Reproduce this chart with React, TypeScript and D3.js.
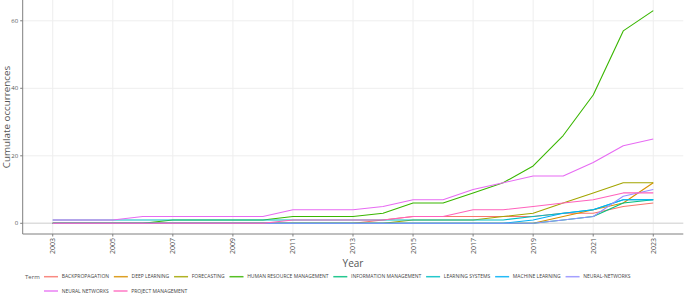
import React, { useEffect, useRef } from "react";
import * as d3 from "d3";

const years = d3.range(2003, 2024);
const xTickYears = [2003, 2005, 2007, 2009, 2011, 2013, 2015, 2017, 2019, 2021, 2023];
const yTicks = [0, 20, 40, 60];

const terms = [
  "BACKPROPAGATION",
  "DEEP LEARNING",
  "FORECASTING",
  "HUMAN RESOURCE MANAGEMENT",
  "INFORMATION MANAGEMENT",
  "LEARNING SYSTEMS",
  "MACHINE LEARNING",
  "NEURAL-NETWORKS",
  "NEURAL NETWORKS",
  "PROJECT MANAGEMENT",
];

const colors = [
  "#F8766D", "#D89000", "#A3A500", "#39B600", "#00BF7D",
  "#00BFC4", "#00B0F6", "#9590FF", "#E76BF3", "#FF62BC",
];

const backpropagation = [0,0,0,0,0,0,0,0,0,0,0,1,2,2,2,2,2,3,3,5,6];
const deepLearning = [0,0,0,0,0,0,0,0,0,0,0,0,0,0,0,0,0,2,4,6,12];
const forecasting = [0,0,0,0,0,0,0,0,0,0,0,0,1,1,1,2,3,6,9,12,12];
const humanResourceManagement = [0,0,0,0,1,1,1,1,2,2,2,3,6,6,9,12,17,26,38,57,63];
const informationManagement = [0,0,0,0,0,0,0,0,0,0,0,0,0,0,0,0,0,1,2,6,7];
const learningSystems = [1,1,1,1,1,1,1,1,1,1,1,1,1,1,1,1,2,3,4,7,7];
const machineLearning = [0,0,0,0,0,0,0,0,0,0,0,0,0,0,0,0,1,3,4,7,7];
const neuralDashNetworks = [0,0,0,0,0,0,0,0,0,0,0,0,0,0,0,0,0,1,2,8,10];
const neuralNetworks = [1,1,1,2,2,2,2,2,4,4,4,5,7,7,10,12,14,14,18,23,25];
const projectManagement = [0,0,0,0,0,0,0,0,1,1,1,1,2,2,4,4,5,6,7,9,9];

const seriesValues = [
  backpropagation, deepLearning, forecasting, humanResourceManagement,
  informationManagement, learningSystems, machineLearning,
  neuralDashNetworks, neuralNetworks, projectManagement,
];

const W = 685;
const H = 294;
const FONT = "'Open Sans', 'Liberation Sans', Arial, sans-serif";

export default function App() {
  const ref = useRef<SVGSVGElement>(null);

  useEffect(() => {
    const svg = d3.select(ref.current);
    svg.selectAll("*").remove();

    const left = 22.7, right = 683.3, top = 0, bottom = 234;
    const x = d3.scaleLinear().domain([2002, 2024]).range([left, right]);
    const y = d3.scaleLinear().domain([-3.17, 66.16]).range([bottom, top]);

    svg.append("rect").attr("width", W).attr("height", H).attr("fill", "#fff");

    const grid = svg.append("g");
    xTickYears.forEach((yr) => {
      grid.append("line")
        .attr("x1", x(yr)).attr("x2", x(yr))
        .attr("y1", top).attr("y2", bottom)
        .attr("stroke", "#eeeeee").attr("stroke-width", 1);
    });
    yTicks.forEach((v) => {
      grid.append("line")
        .attr("x1", left).attr("x2", right)
        .attr("y1", y(v)).attr("y2", y(v))
        .attr("stroke", v === 0 ? "#dddddd" : "#eeeeee")
        .attr("stroke-width", v === 0 ? 1.5 : 1);
    });

    const lineGen = d3.line<number>()
      .x((_, i) => x(years[i]))
      .y((d) => y(d));

    const lines = svg.append("g");
    seriesValues.forEach((vals, i) => {
      lines.append("path")
        .attr("d", lineGen(vals) as string)
        .attr("fill", "none")
        .attr("stroke", colors[i])
        .attr("stroke-width", 1.1)
        .attr("stroke-linejoin", "round");
    });

    // axes
    const ax = svg.append("g");
    ax.append("line").attr("x1", left).attr("x2", left).attr("y1", top).attr("y2", bottom)
      .attr("stroke", "#7f7f7f").attr("stroke-width", 1);
    ax.append("line").attr("x1", left).attr("x2", right).attr("y1", bottom).attr("y2", bottom)
      .attr("stroke", "#7f7f7f").attr("stroke-width", 1);

    yTicks.forEach((v) => {
      ax.append("line").attr("x1", left - 2.5).attr("x2", left).attr("y1", y(v)).attr("y2", y(v))
        .attr("stroke", "#7f7f7f");
      ax.append("text").attr("x", left - 4.5).attr("y", y(v)).attr("dy", "0.35em")
        .attr("text-anchor", "end").attr("font-size", 6).attr("font-family", FONT)
        .attr("fill", "#555").text(String(v));
    });

    xTickYears.forEach((yr) => {
      ax.append("line").attr("x1", x(yr)).attr("x2", x(yr)).attr("y1", bottom).attr("y2", bottom + 2.5)
        .attr("stroke", "#7f7f7f");
      ax.append("text")
        .attr("transform", `translate(${x(yr)},${bottom + 4}) rotate(-90)`)
        .attr("text-anchor", "end").attr("dy", "0.35em")
        .attr("font-size", 7).attr("font-family", FONT)
        .attr("fill", "#555").text(String(yr));
    });

    svg.append("text")
      .attr("transform", `translate(9.8,${(top + bottom) / 2}) rotate(-90)`)
      .attr("text-anchor", "middle")
      .attr("font-size", 9.8).attr("font-family", FONT).attr("fill", "#555")
      .text("Cumulate occurrences");

    svg.append("text")
      .attr("x", (left + right) / 2).attr("y", 266.5)
      .attr("text-anchor", "middle")
      .attr("font-size", 10).attr("font-family", FONT).attr("fill", "#555")
      .text("Year");

    // legend
    const lg = svg.append("g");
    lg.append("text").attr("x", 25).attr("y", 276.7).attr("dy", "0.35em")
      .attr("font-size", 6).attr("font-family", FONT).attr("fill", "#555").text("Term");

    const startX = 44;
    let cx = startX;
    let cy = 276.7;
    terms.forEach((t, i) => {
      const g = lg.append("g");
      const txt = g.append("text").attr("font-size", 5).attr("font-family", FONT)
        .attr("fill", "#444").attr("dy", "0.35em").text(t);
      const tw = (txt.node() as SVGTextElement).getComputedTextLength();
      const itemW = 14 + 3.7 + tw;
      if (cx + itemW > W - 4) {
        cx = startX;
        cy += 14.3;
      }
      g.append("line").attr("x1", cx).attr("x2", cx + 14).attr("y1", cy).attr("y2", cy)
        .attr("stroke", colors[i]).attr("stroke-width", 1.5).attr("opacity", 0.85);
      txt.attr("x", cx + 17.7).attr("y", cy);
      cx += itemW + 4.8;
    });
  }, []);

  return (
    <svg
      ref={ref}
      width={W}
      height={H}
      style={{ position: "absolute", left: 0, top: 0, display: "block" }}
    />
  );
}
